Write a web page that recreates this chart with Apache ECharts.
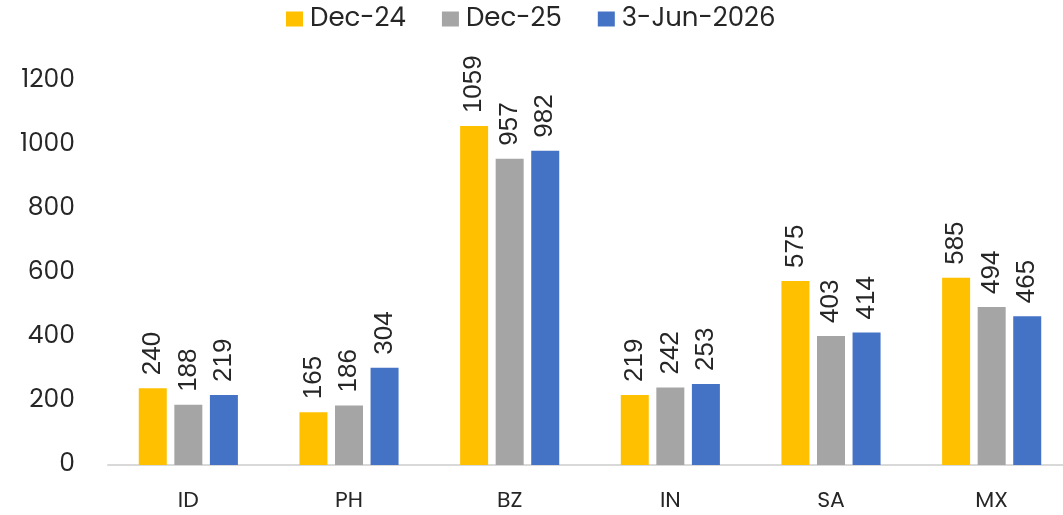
<!DOCTYPE html>
<html>
<head>
<meta charset="utf-8">
<script src="https://cdn.jsdelivr.net/npm/echarts@6/dist/echarts.min.js"></script>
<style>
  html, body { margin: 0; padding: 0; background: #fff; overflow: hidden; }
  /* the drawing surface runs a little past the right edge of the window */
  #chart { width: 1072px; height: 515px; }
</style>
</head>
<body>
<div id="chart"></div>
<script>
// Categories and series values
const categories = ['ID', 'PH', 'BZ', 'IN', 'SA', 'MX'];
const dec24 = [240, 165, 1059, 219, 575, 585];
const dec25 = [188, 186, 957, 242, 403, 494];
const jun26 = [219, 304, 982, 253, 414, 465];
const seriesNames = ['Dec-24', 'Dec-25', '3-Jun-2026'];
const colors = ['#FFC000', '#A5A5A5', '#4472C4'];

const tickFont = 'Poppins, "Open Sans", Inter, sans-serif';

const labelStyle = {
  show: true,
  position: 'top',
  rotate: 90,
  align: 'left',
  verticalAlign: 'middle',
  distance: 13,
  color: '#262626',
  fontSize: 26,
  fontFamily: '"Liberation Sans", Arial, sans-serif'
};

function makeSeries(name, data, color) {
  return {
    name: name,
    type: 'bar',
    data: data,
    itemStyle: { color: color },
    barWidth: 28,
    barGap: '27%',
    label: labelStyle
  };
}

const chart = echarts.init(document.getElementById('chart'), null, { renderer: 'canvas' });
chart.setOption({
  animation: false,
  color: colors,
  legend: {
    top: 6,
    left: 286,
    padding: 0,
    itemWidth: 17,
    itemHeight: 15,
    itemGap: 36,
    icon: 'rect',
    textStyle: { fontSize: 26, color: '#262626', fontFamily: tickFont, padding: [0, 0, 0, 2] }
  },
  grid: { left: 108, right: 0, top: 81, bottom: 50 },
  xAxis: {
    type: 'category',
    data: categories,
    axisLine: { lineStyle: { color: '#D9D9D9', width: 2 } },
    axisTick: { show: false },
    axisLabel: { fontSize: 22, color: '#262626', margin: 25, fontFamily: tickFont }
  },
  yAxis: {
    type: 'value',
    min: 0,
    max: 1200,
    interval: 200,
    splitLine: { show: false },
    axisLine: { show: false },
    axisTick: { show: false },
    axisLabel: {
      fontSize: 25,
      color: '#262626',
      margin: 33,
      fontFamily: tickFont,
      formatter: function (v) { return String(v); }
    }
  },
  series: [
    makeSeries(seriesNames[0], dec24, colors[0]),
    makeSeries(seriesNames[1], dec25, colors[1]),
    makeSeries(seriesNames[2], jun26, colors[2])
  ]
});
</script>
</body>
</html>
